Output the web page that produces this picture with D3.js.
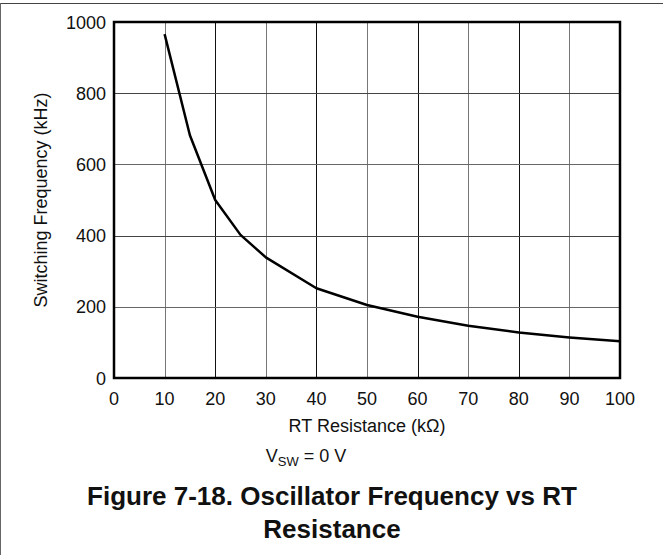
<!DOCTYPE html>
<html><head><meta charset="utf-8">
<script src="https://cdn.jsdelivr.net/npm/d3@7"></script>
<style>body{margin:0;background:#fff}svg{display:block}</style>
</head><body>
<svg id="c" width="663" height="555"></svg>
<script>
const resistance = [10, 15, 20, 25, 30, 40, 50, 60, 70, 80, 90, 100];
const frequency = [966, 682, 500, 402, 339, 252, 205, 172, 147, 128, 114, 103];
const xTicks = [0, 10, 20, 30, 40, 50, 60, 70, 80, 90, 100];
const yTicks = [0, 200, 400, 600, 800, 1000];

const svg = d3.select('#c');
const font = 'Liberation Sans, Arial, Helvetica, sans-serif';
const L = 114, R = 620, T = 22, B = 378;
const x = d3.scaleLinear().domain([0, 100]).range([L, R]);
const y = d3.scaleLinear().domain([0, 1000]).range([B, T]);

// page frame
svg.append('line').attr('x1', 0).attr('x2', 663).attr('y1', 3.5).attr('y2', 3.5).attr('stroke', '#444').attr('stroke-width', 1);
svg.append('line').attr('x1', 0.5).attr('x2', 0.5).attr('y1', 3).attr('y2', 555).attr('stroke', '#666').attr('stroke-width', 1);

// grid
const g = svg.append('g');
g.selectAll('.vg').data(xTicks.slice(1, -1)).join('line')
  .attr('x1', d => Math.round(x(d)) + 0.5).attr('x2', d => Math.round(x(d)) + 0.5)
  .attr('y1', T).attr('y2', B).attr('stroke', (d, i) => i % 2 ? '#111' : '#777').attr('stroke-width', 1);
g.selectAll('.hg').data([200, 400, 600, 800]).join('line')
  .attr('x1', L).attr('x2', R)
  .attr('y1', d => Math.round(y(d)) + 0.5).attr('y2', d => Math.round(y(d)) + 0.5)
  .attr('stroke', (d, i) => i % 2 ? '#444' : '#666').attr('stroke-width', 1);

// frame
svg.append('rect').attr('x', L).attr('y', T).attr('width', R - L).attr('height', B - T)
  .attr('fill', 'none').attr('stroke', '#000').attr('stroke-width', 2.5);

// tick labels
svg.append('g').selectAll('text').data(xTicks).join('text')
  .attr('x', d => x(d)).attr('y', B + 27).attr('text-anchor', 'middle')
  .attr('font-family', font).attr('font-size', 18).attr('fill', '#111').text(d => d);
svg.append('g').selectAll('text').data(yTicks).join('text')
  .attr('x', L - 8).attr('y', d => y(d) + 6.5).attr('text-anchor', 'end')
  .attr('font-family', font).attr('font-size', 18).attr('fill', '#111').text(d => d);

// line
svg.append('path').datum(resistance.map((r, i) => [r, frequency[i]]))
  .attr('d', d3.line().x(d => x(d[0])).y(d => y(d[1])))
  .attr('fill', 'none').attr('stroke', '#000').attr('stroke-width', 2.5).attr('stroke-linejoin', 'round');

// axis titles
svg.append('text').attr('x', (L + R) / 2).attr('y', 432).attr('text-anchor', 'middle')
  .attr('font-family', font).attr('font-size', 18).attr('fill', '#111').text('RT Resistance (kΩ)');
svg.append('text').attr('transform', `translate(47,${(T + B) / 2}) rotate(-90)`).attr('text-anchor', 'middle')
  .attr('font-family', font).attr('font-size', 18).attr('fill', '#111').text('Switching Frequency (kHz)');

// condition
const c = svg.append('text').attr('x', 306).attr('y', 462).attr('text-anchor', 'middle')
  .attr('font-family', font).attr('font-size', 18).attr('fill', '#111');
c.append('tspan').text('V');
c.append('tspan').attr('font-size', 13).attr('dy', 4).text('SW');
c.append('tspan').attr('dy', -4).text(' = 0 V');

// title
svg.append('text').attr('x', 332).attr('y', 505).attr('text-anchor', 'middle')
  .attr('font-family', font).attr('font-size', 26).attr('font-weight', 'bold').attr('fill', '#111')
  .text('Figure 7-18. Oscillator Frequency vs RT');
svg.append('text').attr('x', 332).attr('y', 538).attr('text-anchor', 'middle')
  .attr('font-family', font).attr('font-size', 26).attr('font-weight', 'bold').attr('fill', '#111')
  .text('Resistance');
</script>
</body></html>
